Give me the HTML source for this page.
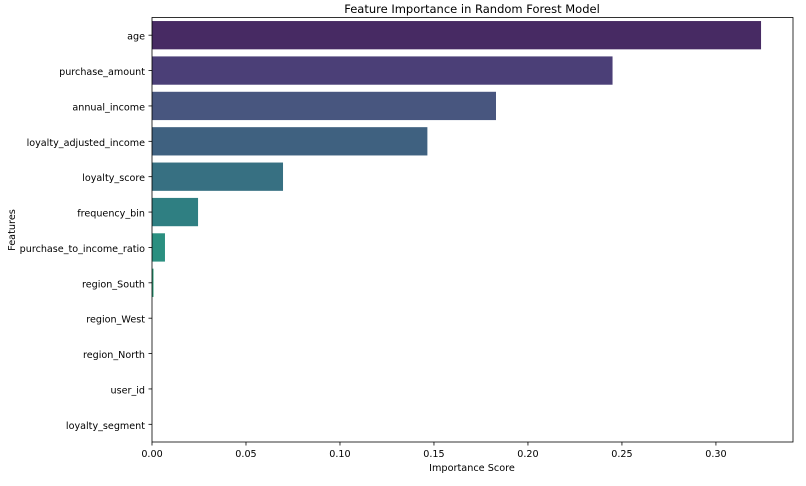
<!DOCTYPE html>
<html><head><meta charset="utf-8"><style>
body{margin:0;background:#fff;font-family:"Liberation Sans","DejaVu Sans",sans-serif}
svg text{font-family:"DejaVu Sans","Liberation Sans",sans-serif;fill:#000}
</style></head><body>
<svg id="chart" width="806" height="481">
<text x="472" y="13" font-size="11.5" text-anchor="middle">Feature Importance in Random Forest Model</text>
<text x="472" y="471" font-size="9.7" text-anchor="middle">Importance Score</text>
<text x="15" y="230" font-size="9.7" text-anchor="middle" transform="rotate(-90 15 230)">Features</text>
<g id="bars"></g><g id="yt"></g><g id="xt"></g>
<rect x="152" y="17.5" width="641" height="424.5" fill="none" stroke="#000" stroke-width="0.8"/>
</svg>
<script>
const categories=["age","purchase_amount","annual_income","loyalty_adjusted_income","loyalty_score","frequency_bin","purchase_to_income_ratio","region_South","region_West","region_North","user_id","loyalty_segment"];
const values=[0.324,0.245,0.183,0.1465,0.0697,0.0245,0.0069,0.0008,0,0,0,0];
const colors=["#472a63","#4b3f77","#48567f","#3f6180","#377082","#2f7f82","#2b8f80","#2f9e7a","#45ad6e","#6aba5e","#99c44a","#cccb3c"];
const xTicks=[0,0.05,0.1,0.15,0.2,0.25,0.3];
const xTickLabels=["0.00","0.05","0.10","0.15","0.20","0.25","0.30"];
const L=152,R=793,T=17.5,B=442,XMAX=0.341;
const ns="http://www.w3.org/2000/svg";
function xs(v){return L+v/XMAX*(R-L);}
const band=(B-T)/categories.length;
function ys(i){return T+band*i;}
function mk(t,a){const e=document.createElementNS(ns,t);for(const k in a)e.setAttribute(k,a[k]);return e;}
const gb=document.getElementById('bars'),gy=document.getElementById('yt'),gx=document.getElementById('xt');
categories.forEach((c,i)=>{
 const y=ys(i)+band*0.1;
 const r=mk('rect',{x:L,y:y,width:Math.max(0,xs(values[i])-L),height:band*0.8,fill:colors[i]});
 
 
 gb.appendChild(r);
 const cy=ys(i)+band/2;
 const tk=mk('line',{x1:L-3.5,x2:L,y1:cy,y2:cy,stroke:'#000','stroke-width':0.8});
 
 
 gy.appendChild(tk);
 const t=mk('text',{x:L-7,y:cy+4.5,'font-size':9.6,'text-anchor':'end'});
 t.textContent=c;
 
 
 gy.appendChild(t);
});
xTicks.forEach((v,i)=>{
 const x=xs(v);
 const tk=mk('line',{x1:x,x2:x,y1:B,y2:B+3.5,stroke:'#000','stroke-width':0.8});
 
 
 gx.appendChild(tk);
 const t=mk('text',{x:x,y:B+15,'font-size':9.6,'text-anchor':'middle'});
 t.textContent=xTickLabels[i];
 
 
 gx.appendChild(t);
});
</script>
</body></html>
